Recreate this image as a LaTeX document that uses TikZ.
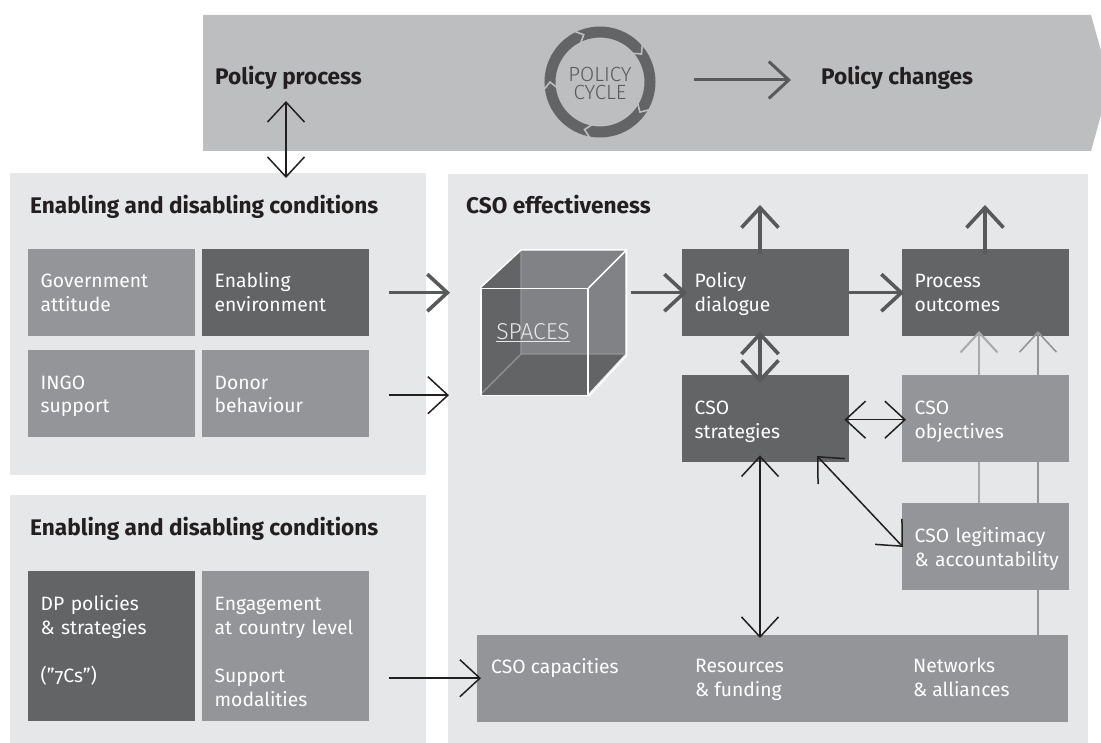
\documentclass[tikz,border=0pt]{standalone}
\usepackage{fontspec}
\setmainfont{Fira Sans}
\newfontfamily\lightface{Fira Sans Light}
\usetikzlibrary{arrows.meta,calc}
\definecolor{panel}{HTML}{E6E7E8}
\definecolor{bannerc}{HTML}{BCBEC0}
\definecolor{darkb}{HTML}{636466}
\definecolor{midb}{HTML}{939598}
\definecolor{cubel}{HTML}{808285}
\definecolor{ink}{HTML}{231F20}
\definecolor{arrowg}{HTML}{58595B}
\definecolor{lightg}{HTML}{A7A9AC}
\tikzset{
  x=1pt,y=-1pt,
  body/.style={font=\fontsize{19.3}{24}\selectfont},
  panelbox/.style={fill=panel,anchor=north west,inner sep=0pt},
  boxbase/.style={body,text=white,inner xsep=12.5pt,inner ysep=0pt,align=left,text width=142pt,minimum width=167pt,minimum height=87pt,anchor=north west,execute at begin node={\rule{0pt}{21.8pt}},execute at end node=\strut},
  darkbox/.style={boxbase,fill=darkb},
  midbox/.style={boxbase,fill=midb},
  heading/.style={font=\fontsize{22.6}{26}\selectfont\bfseries,text=ink,anchor=base west,inner sep=0pt},
  captxt/.style={body,text=white,align=left,anchor=west,inner sep=0pt,execute at begin node=\strut,execute at end node=\strut},
  thinarr/.style={draw=ink,line width=1.5pt},
  thickarr/.style={draw=arrowg,line width=3.6pt},
  lightarr/.style={draw=lightg,line width=2pt},
  tipthin/.tip={Straight Barb[length=20pt,width=37pt]},
  tipthick/.tip={Straight Barb[length=20pt,width=37pt]},
  whiteedge/.style={draw=white,line width=1.5pt},
  backedge/.style={draw=midb,line width=1.2pt},
}
\begin{document}
\begin{tikzpicture}
\useasboundingbox (0,0) rectangle (1101,743);
\begin{scope}
\clip (0,0) rectangle (1101,743);
% banner
\fill[bannerc] (203,15) -- (1091,15) -- (1110,83) -- (1091,151) -- (203,151) -- cycle;
% panels
\node[panelbox,minimum width=416pt,minimum height=302pt] (leftupper) at (10,173) {};
\node[panelbox,minimum width=416pt,minimum height=248pt] (leftlower) at (10,495) {};
\node[panelbox,minimum width=640pt,minimum height=569pt] (rightpanel) at (448,174) {};
\end{scope}
% banner content
\node[heading] (policyprocess) at (215,85) {Policy process};
\node[heading] (policychanges) at (821,85) {Policy changes};
\coordinate (cyc) at (600,82);
\draw[draw=darkb,line width=11pt] (cyc) circle (50);
\foreach \a in {-112,-37,34,105,-183}{
  \draw[bannerc,line width=1.6pt] ($(cyc)+(\a-5:57)$) -- ($(cyc)+(\a+3:50)$) -- ($(cyc)+(\a-5:43)$);
}
\node[font=\lightface\fontsize{20.5}{18}\selectfont,text=arrowg,align=center,inner sep=0pt] (policycycle) at (600,83) {POLICY\\CYCLE};
\coordinate (cyclearrowstart) at (694,80);
\draw[thickarr,line width=3pt,-{tipthick}] (cyclearrowstart) -- (cyclearrowstart -| policychanges.west) [shorten >=30pt];
% left upper
\node[heading] (enablingtitle) at (30,213.5) {Enabling and disabling conditions};
\node[midbox] (government) at (28,249) {Government\\attitude};
\node[darkbox] (enabling) at (202,249) {Enabling\\environment};
\node[midbox] (ingo) at (28,350) {INGO\\support};
\node[midbox] (donor) at (202,350) {Donor\\behaviour};
% left lower
\node[heading] (enablingtitletwo) at (30,535.5) {Enabling and disabling conditions};
\node[darkbox,minimum height=150pt] (dp) at (28,571) {\rule{0pt}{30.8pt}DP policies\\\& strategies\\[24pt](”{\addfontfeature{Numbers=OldStyle}7}Cs”)\\ };
\node[midbox,minimum height=150pt] (engagement) at (202,571) {\rule{0pt}{30.8pt}Engagement\\at country level\\[24pt]Support\\modalities};
% right panel
\node[heading] (csotitle) at (466,213.5) {CSO effectiveness};
% cube
\fill[darkb] (480,288) -- (521,250) -- (625,250) -- (625,354) -- (587,395) -- (480,395) -- cycle;
\fill[cubel] (521,250) rectangle (625,354);
\fill[cubel] (587,288) -- (625,250) -- (625,354) -- (587,354) -- cycle;
\draw[backedge] (521,250) -- (521,354) -- (625,354) (521,354) -- (480,395);
\node[whiteedge,anchor=north west,inner sep=0pt,minimum width=107pt,minimum height=107pt] (cubefront) at (480,288) {};
\node[whiteedge,draw=none,anchor=north west,inner sep=0pt,minimum width=104pt,minimum height=104pt] (cubeback) at (521,250) {};
\draw[whiteedge,line join=round] (cubefront.north west) -- (cubeback.north west) -- (cubeback.north east) -- (cubeback.south east) -- (cubefront.south east) (cubefront.north east) -- (cubeback.north east);
\node[font=\lightface\fontsize{23}{24}\selectfont,text=panel,inner sep=0pt] (spaces) at (533,333) {\underline{SPACES}};
% right boxes
\node[darkbox] (policy) at (682,249) {Policy\\dialogue};
\node[darkbox] (process) at (902,249) {Process\\outcomes};
\node[darkbox] (strategies) at (682,375) {CSO\\strategies};
\node[midbox] (objectives) at (902,375) {CSO\\objectives};
\node[midbox] (legitimacy) at (902,503) {CSO legitimacy\\\mbox{\& accountability}};
\node[fill=midb,anchor=north west,inner sep=0pt,minimum width=591pt,minimum height=87pt] (capacities) at (477,635) {};
\node[captxt] (capa) at (491,669) {CSO capacities};
\node[captxt] (resources) at (695,681) {Resources\\\& funding};
\node[captxt] (networks) at (913,681) {Networks\\\& alliances};
% light connectors
\coordinate (la) at (979,331);
\coordinate (lb) at (1038,331);
\draw[lightarr] (legitimacy.north -| la) -- (objectives.south -| la);
\draw[lightarr,-{tipthin}] (objectives.north -| la) -- (la);
\draw[draw=midb,line width=1.6pt] (capacities.north -| lb) -- (legitimacy.south -| lb);
\draw[draw=midb,line width=1.6pt] (legitimacy.north -| lb) -- (objectives.south -| lb);
\draw[draw=midb,line width=1.6pt,-{tipthin}] (objectives.north -| lb) -- (lb);
% thick connectors
\coordinate (policyup) at (760,205);
\coordinate (processup) at (985,205);
\draw[thickarr,-{tipthick},shorten <=-5pt] (policy.north -| policyup) -- (policyup);
\draw[thickarr,-{tipthick},shorten <=-5pt] (process.north -| processup) -- (processup);
\draw[thickarr,-{tipthick},shorten <=20pt,shorten >=30pt] (enabling.east) -- (enabling.east -| cubefront.west);
\draw[thickarr,-{tipthick},shorten <=4pt,shorten >=-5pt] (policy.west -| cubeback.east) -- (policy.west);
\draw[thickarr,-{tipthick},shorten >=-2pt] (policy.east) -- (process.west);
\draw[thickarr,{tipthick}-{tipthick},shorten <=-5pt,shorten >=-8pt] (policy.south -| policyup) -- (strategies.north -| policyup);
% thin connectors
\coordinate (bannerfoot) at (286,151);
\draw[thinarr,{tipthin}-{tipthin},shorten <=-50pt,shorten >=-5pt] (bannerfoot) -- (leftupper.north -| bannerfoot);
\draw[thinarr,-{tipthin},shorten <=20pt,shorten >=31pt] ([yshift=-1.5pt]donor.east) -- ([yshift=-1.5pt]donor.east -| cubefront.west);
\draw[thinarr,-{tipthin},shorten <=20pt,shorten >=-4pt] ([yshift=-32pt]engagement.east) -- ([yshift=-32pt]engagement.east -| capacities.west);
\draw[thinarr,{tipthin}-{tipthin},shorten <=-5pt,shorten >=-4pt] ([yshift=-1pt]strategies.east) -- ([yshift=-1pt]objectives.west);
\draw[thinarr,{tipthin}-{tipthin},shorten <=-7pt,shorten >=-3pt] (strategies.south -| policyup) -- (capacities.north -| policyup);
\coordinate (slope) at (817,456);
\coordinate (slopeend) at (903,547);
\draw[thinarr,{tipthin}-{tipthin}] (slope) -- (slopeend);
\end{tikzpicture}
\end{document}
